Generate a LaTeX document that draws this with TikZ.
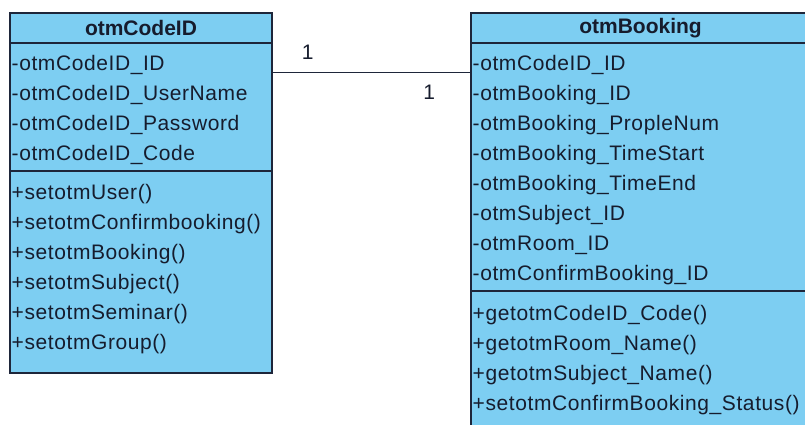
\documentclass[tikz,border=0pt]{standalone}
\usepackage{fontspec}
\setmainfont{Liberation Sans}
\usepackage{tikz}
\usetikzlibrary{positioning}
\usepackage{xcolor}
\definecolor{umlblue}{RGB}{125,206,242}
\definecolor{umlline}{RGB}{30,38,58}
\definecolor{umltext}{RGB}{22,28,45}

\tikzset{
  part/.style={draw=umlline, fill=umlblue, line width=1.4pt, outer sep=0pt, inner sep=0pt, anchor=north west},
  classname/.style={font=\fontsize{21}{30}\selectfont\bfseries, text=umltext},
  members/.style={font=\fontsize{21}{30}\selectfont\addfontfeature{LetterSpace=2.8}, text=umltext, align=left, anchor=north west, inner sep=0pt},
  mult/.style={font=\fontsize{21}{30}\selectfont, text=umltext, inner sep=0pt},
  assoc/.style={draw=umlline, line width=1.4pt}
}

\begin{document}
\begin{tikzpicture}[x=1pt, y=1pt]
\useasboundingbox (0,0) rectangle (805,-425);
\clip (0,0) rectangle (805,-425);

\node[part, classname, minimum width=262pt, minimum height=30pt] (codeHead) at (10,-13) {otmCodeID};
\node[part, minimum width=262pt, minimum height=128pt, below=0pt of codeHead] (codeAttr) {};
\node[part, minimum width=262pt, minimum height=202pt, below=0pt of codeAttr] (codeOps) {};

\node[part, classname, minimum width=350pt, minimum height=30pt] (bookHead) at (471,-13) {\hspace*{-11pt}otmBooking};
\node[part, minimum width=350pt, minimum height=248pt, below=0pt of bookHead] (bookAttr) {};
\node[part, minimum width=350pt, minimum height=150pt, below=0pt of bookAttr] (bookOps) {};

\node[members] (codeAttrText) at ([xshift=1.5pt, yshift=-12.5pt]codeAttr.north west) {-otmCodeID\_ID\\-otmCodeID\_UserName\\-otmCodeID\_Password\\-otmCodeID\_Code};
\node[members] (codeOpsText) at ([xshift=1.5pt, yshift=-13.5pt]codeOps.north west) {+setotmUser()\\+setotmConfirmbooking()\\+setotmBooking()\\+setotmSubject()\\+setotmSeminar()\\+setotmGroup()};

\node[members] (bookAttrText) at ([xshift=1.5pt, yshift=-12.5pt]bookAttr.north west) {-otmCodeID\_ID\\-otmBooking\_ID\\-otmBooking\_PropleNum\\-otmBooking\_TimeStart\\-otmBooking\_TimeEnd\\-otmSubject\_ID\\-otmRoom\_ID\\-otmConfirmBooking\_ID};
\node[members] (bookOpsText) at ([xshift=1.5pt, yshift=-14.5pt]bookOps.north west) {+getotmCodeID\_Code()\\+getotmRoom\_Name()\\+getotmSubject\_Name()\\+setotmConfirmBooking\_Status()};

\draw[assoc] ([yshift=-29.7pt]codeAttr.north east) -- ([yshift=-29.7pt]bookAttr.north west)
  node[mult, pos=0.18, above=12pt] (multCode) {1}
  node[mult, pos=0.79, below=12pt] (multBook) {1};
\end{tikzpicture}
\end{document}
